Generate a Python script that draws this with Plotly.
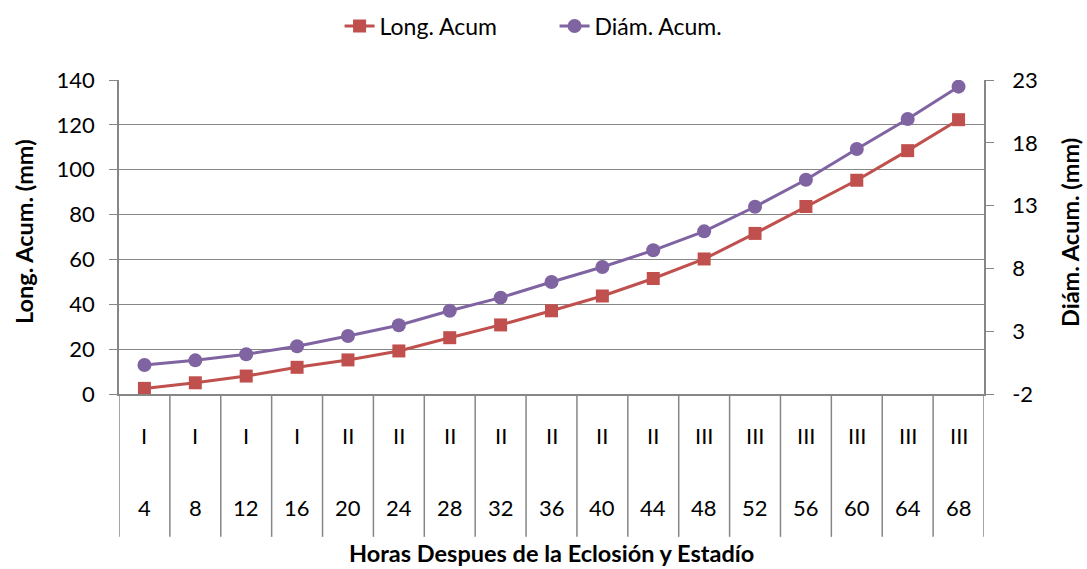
import plotly.graph_objects as go

# Horas después de la eclosión, estadío larval y valores acumulados
horas = ["4", "8", "12", "16", "20", "24", "28", "32", "36", "40", "44",
         "48", "52", "56", "60", "64", "68"]
estadio = ["I", "I", "I", "I", "II", "II", "II", "II", "II", "II", "II",
           "III", "III", "III", "III", "III", "III"]
long_acum = [2.5, 5.0, 8.0, 11.9, 15.2, 19.2, 25.1, 30.8, 37.1, 43.7, 51.5,
             60.2, 71.6, 83.6, 95.3, 108.5, 122.3]
diam_acum = [0.31, 0.68, 1.16, 1.80, 2.62, 3.47, 4.63, 5.67, 6.92, 8.11, 9.44,
             10.95, 12.91, 15.06, 17.51, 19.90, 22.47]
ticks_long = [0, 20, 40, 60, 80, 100, 120, 140]
ticks_diam = [-2, 3, 8, 13, 18, 23]

ROJO = "#C0504D"
MORADO = "#8064A2"
GRIS = "#868686"
FUENTE = "Lato"
TAM_NUM = 22
TAM_TXT = 23
TAM_TIT = 23.5

pos = list(range(len(horas)))

fig = go.Figure()
fig.add_trace(go.Scatter(
    x=pos, y=long_acum, name="Long. Acum", mode="lines+markers",
    line=dict(color=ROJO, width=3),
    marker=dict(symbol="square", size=13, color=ROJO),
    yaxis="y"))
fig.add_trace(go.Scatter(
    x=pos, y=diam_acum, name="Diám. Acum.", mode="lines+markers",
    line=dict(color=MORADO, width=3),
    marker=dict(symbol="circle", size=14, color=MORADO),
    yaxis="y2"))

# Tabla de categorías bajo el eje X: separadores verticales
shapes = []
tabla_fondo = -0.455
for i in range(len(horas) + 1):
    shapes.append(dict(type="line", xref="x", yref="paper",
                       x0=i - 0.5, x1=i - 0.5, y0=0, y1=tabla_fondo,
                       line=dict(color=GRIS, width=1.5)))

annotations = []
for i, (h, e) in enumerate(zip(horas, estadio)):
    annotations.append(dict(x=i, y=-0.131, xref="x", yref="paper", text=e,
                            showarrow=False, yanchor="middle",
                            font=dict(family=FUENTE, size=TAM_NUM, color="black")))
    annotations.append(dict(x=i, y=-0.36, xref="x", yref="paper", text=h,
                            showarrow=False, yanchor="middle",
                            font=dict(family=FUENTE, size=TAM_NUM, color="black")))

annotations += [
    dict(x=0.5, y=-0.505, xref="paper", yref="paper",
         text="<b>Horas Despues de la Eclosión y Estadío</b>", showarrow=False,
         yanchor="middle", font=dict(family=FUENTE, size=TAM_TIT, color="black")),
    dict(x=-0.1098, y=0.516, xref="paper", yref="paper", textangle=-90,
         text="<b>Long. Acum. (mm)</b>", showarrow=False,
         xanchor="center", yanchor="middle",
         font=dict(family=FUENTE, size=TAM_TIT, color="black")),
    dict(x=1.0994, y=0.516, xref="paper", yref="paper", textangle=-90,
         text="<b>Diám. Acum. (mm)</b>", showarrow=False,
         xanchor="center", yanchor="middle",
         font=dict(family=FUENTE, size=TAM_TIT, color="black")),
]

fig.update_layout(
    width=1087, height=569,
    margin=dict(l=119, r=103, t=80, b=175, autoexpand=False),
    paper_bgcolor="white", plot_bgcolor="white",
    font=dict(family=FUENTE, size=TAM_TXT, color="black"),
    showlegend=True,
    legend=dict(orientation="h", x=0.255, xanchor="left", y=1.172,
                yanchor="middle", font=dict(family=FUENTE, size=TAM_TXT),
                entrywidth=170, entrywidthmode="pixels",
                traceorder="normal"),
    xaxis=dict(range=[-0.5, len(horas) - 0.5], showticklabels=False,
               showgrid=False, zeroline=False, showline=True,
               linecolor=GRIS, linewidth=1.5, ticks=""),
    yaxis=dict(range=[0, 140], tickvals=ticks_long,
               ticktext=[str(v) for v in ticks_long], showgrid=True,
               gridcolor=GRIS, gridwidth=1.3, zeroline=False,
               showline=True, linecolor=GRIS, linewidth=1.5,
               ticks="outside", ticklen=8, tickcolor=GRIS, tickwidth=1.3,
               ticklabelstandoff=10,
               tickfont=dict(family=FUENTE, size=TAM_NUM, color="black")),
    yaxis2=dict(range=[-2, 23], tickvals=ticks_diam,
                ticktext=[str(v) for v in ticks_diam], overlaying="y",
                side="right", showgrid=False, zeroline=False,
                showline=True, linecolor=GRIS, linewidth=1.5,
                ticks="outside", ticklen=8, tickcolor=GRIS, tickwidth=1.3,
                ticklabelstandoff=14,
                tickfont=dict(family=FUENTE, size=TAM_NUM, color="black")),
    shapes=shapes,
    annotations=annotations,
)

fig.write_html("out.html")
